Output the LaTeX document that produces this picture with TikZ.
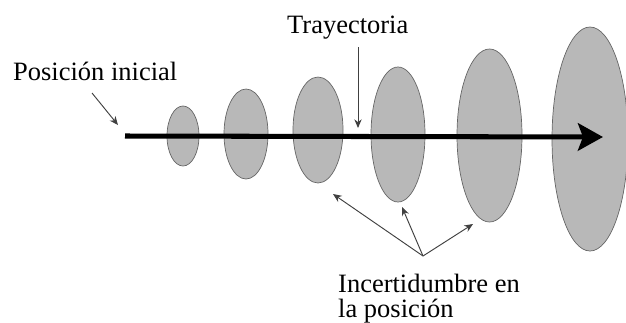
\documentclass[tikz,border=0pt]{standalone}
\usepackage{fontspec}
\setmainfont{Liberation Serif}
\usepackage{tikz}
\usetikzlibrary{shapes.geometric,arrows.meta}

\tikzset{
  blob/.style = {ellipse, draw = black!60, line width = 0.6pt, fill = black!28, inner sep = 0pt},
  label/.style = {inner sep = 0pt, font = \fontsize{22.6}{21}\selectfont},
  thin arrow/.style = {-{Stealth[length = 2.6mm, width = 2.2mm]}, line width = 0.8pt, black!75}
}

\begin{document}
\begin{tikzpicture}[x = 0.03cm, y = -0.03cm]
		\useasboundingbox (0, 0) rectangle (626, 322);
		% uncertainty ellipses
		\node [blob, minimum width = 0.96cm, minimum height = 1.80cm] (e1) at (183, 136) {};
		\node [blob, minimum width = 1.32cm, minimum height = 2.70cm] (e2) at (246, 134) {};
		\node [blob, minimum width = 1.50cm, minimum height = 3.18cm] (e3) at (318, 130) {};
		\node [blob, minimum width = 1.62cm, minimum height = 4.05cm] (e4) at (398, 134.5) {};
		\node [blob, minimum width = 1.95cm, minimum height = 5.19cm] (e5) at (489.5, 135.5) {};
		\node [blob, minimum width = 2.28cm, minimum height = 6.72cm] (e6) at (590, 139) {};
		% trajectory
		\coordinate (start) at (125, 136);
		\coordinate (tip) at (603, 137);
		\draw [line width = 4.3pt, -{Stealth[length = 7.5mm, width = 8.2mm, inset = 1.5mm]}] (start) -- (tip);
		% labels
		\node [label, anchor = base west] (ini) at (13, 80) {Posición inicial};
		\node [label, anchor = base west] (tray) at (287, 33) {Trayectoria};
		\node [label, anchor = north west, align = left] (unc) at (338, 274) {Incertidumbre en\\la posición};
		\coordinate (inipt) at (92, 93);
		\coordinate (inihead) at (118, 125);
		\draw [thin arrow] (inipt) -- (inihead);
		\coordinate (traypt) at (358, 47);
		\coordinate (trayhead) at (358, 128);
		\draw [thin arrow] (traypt) -- (trayhead);
		\coordinate (fork) at (423, 256);
		\coordinate (h3) at (333, 194);
		\coordinate (h4) at (402, 207);
		\coordinate (h5) at (473, 224);
		\foreach \h in {h3, h4, h5}
			\draw [thin arrow] (fork) -- (\h);
	\end{tikzpicture}
\end{document}
